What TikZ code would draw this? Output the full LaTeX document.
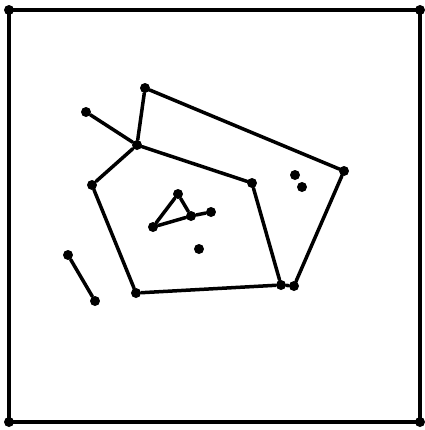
\documentclass[tikz,border=0pt]{standalone}
\usetikzlibrary{positioning}

\begin{document}
\begin{tikzpicture}[
    x=0.02cm, y=-0.02cm,
    pt/.style={circle, fill=black, inner sep=0pt, minimum size=0.2cm},
    edge/.style={line width=0.07cm, line cap=round, line join=round}
]
\useasboundingbox (0,0) rectangle (425,430);

% Frame corners
\node[pt] (tl) at (9,10) {};
\node[pt] (tr) at (420,10) {};
\node[pt] (bl) at (9,422) {};
\node[pt] (br) at (420,422) {};

% Outer polygon vertices
\node[pt] (vtop)   at (145,88) {};
\node[pt] (vstub)  at (86,112) {};
\node[pt] (vhub)   at (137,145) {};
\node[pt] (vleft)  at (92,185) {};
\node[pt] (vmid)   at (252,183) {};
\node[pt] (vright) at (344,171) {};
\node[pt] (vbl)    at (136,293) {};
\node[pt] (vbr1)   at (281,285) {};
\node[pt] (vbr2)   at (294,286) {};

% Inner triangle
\node[pt] (ttop)   at (178,194) {};
\node[pt] (tmid)   at (191,216) {};
\node[pt] (ttail)  at (211,212) {};
\node[pt] (tleft)  at (153,227) {};

% Isolated points and segment
\node[pt] (iso1) at (295,175) {};
\node[pt] (iso2) at (302,187) {};
\node[pt] (iso3) at (199,249) {};
\node[pt] (sega) at (68,255) {};
\node[pt] (segb) at (95,301) {};

% Frame
\draw[edge] (tl.center) -- (tr.center) -- (br.center) -- (bl.center) -- cycle;

% Polygons
\draw[edge] (vtop) -- (vhub);
\draw[edge] (vtop) -- (vright);
\draw[edge] (vstub) -- (vhub);
\draw[edge] (vhub) -- (vleft);
\draw[edge] (vhub) -- (vmid);
\draw[edge] (vleft) -- (vbl);
\draw[edge] (vbl) -- (vbr1);
\draw[edge] (vmid) -- (vbr1);
\draw[edge] (vbr1) -- (vbr2);
\draw[edge] (vright) -- (vbr2);

% Triangle
\draw[edge] (ttop) -- (tleft);
\draw[edge] (ttop) -- (tmid);
\draw[edge] (tleft) -- (tmid);
\draw[edge] (tmid) -- (ttail);

% Segment
\draw[edge] (sega) -- (segb);
\end{tikzpicture}
\end{document}
